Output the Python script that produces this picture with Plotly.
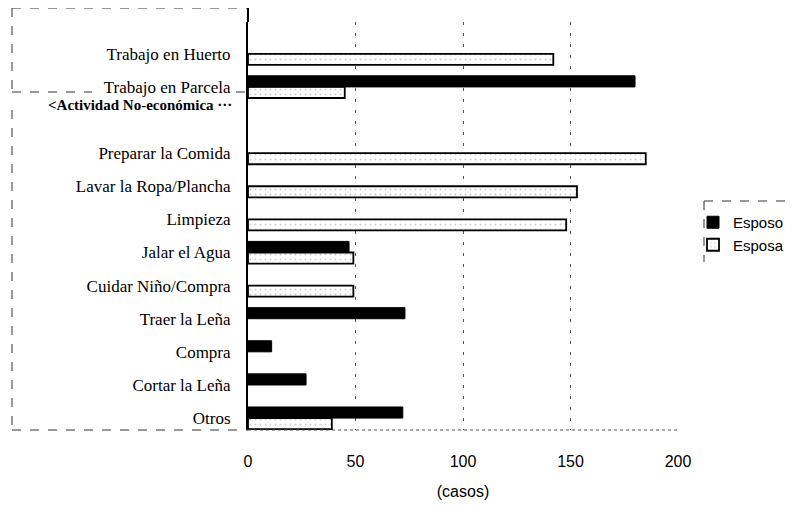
import plotly.graph_objects as go

categories = ["Otros", "Cortar la Leña", "Compra", "Traer la Leña", "Cuidar Niño/Compra",
              "Jalar el Agua", "Limpieza", "Lavar la Ropa/Plancha", "Preparar la Comida",
              " ", "Trabajo en Parcela", "Trabajo en Huerto"]
esposo = [72, 27, 11, 73, None, 47, None, None, None, None, 180, None]
esposa = [39, None, None, None, 49, 49, 148, 153, 185, None, 45, 142]
x_ticks = [0, 50, 100, 150, 200]
group_label = "<Actividad No-económica ···"

fig = go.Figure()
fig.add_trace(go.Bar(y=categories, x=esposa, orientation="h", name="Esposa",
                     marker=dict(color="white", line=dict(color="black", width=1.8),
                                 pattern=dict(shape=".", fgcolor="#9a9a9a", bgcolor="white",
                                              size=5, solidity=0.12))))
fig.add_trace(go.Bar(y=categories, x=esposo, orientation="h", name="Esposo",
                     marker=dict(color="black", line=dict(color="black", width=1))))

# page has an 8px body margin: figure is placed at (8, 8) in the window
OFF = 8
W, H = 794 - OFF, 506 - OFF
L, R, T, B = 248, 678, 22, 430  # plot area in window pixels


def px(p):
    return (p - L) / (R - L)


def py(p):
    return (B - p) / (B - T)


dash = dict(color="#333", width=1, dash="dash")


def line(x0, x1, y0, y1, st):
    return dict(type="line", xref="paper", yref="paper",
                x0=px(x0), x1=px(x1), y0=py(y0), y1=py(y1), line=st)


shapes = [
    # top group box
    line(12, 247, 8, 8, dash),
    line(12, 12, 8, 92, dash),
    line(12, 92, 92, 92, dash),
    line(236, 247, 92, 92, dash),
    line(248, 248, 8, 22, dict(color="black", width=2)),
    # second group box
    line(12, 12, 110, 430, dash),
    line(12, 248, 430, 430, dash),
    # bottom dotted line of plot
    dict(type="line", xref="paper", yref="paper", x0=0, x1=1, y0=0, y1=0,
         line=dict(color="#555", width=1, dash="dot")),
    # legend partial dashed frame
    line(704, 792, 201, 201, dash),
    line(704, 704, 201, 262, dash),
]

fig.update_layout(
    width=W, height=H,
    margin=dict(l=L - OFF, r=W - (R - OFF), t=T - OFF, b=H - (B - OFF), autoexpand=False),
    paper_bgcolor="white", plot_bgcolor="white",
    barmode="group", bargap=0.33, bargroupgap=0.0,
    showlegend=True,
    legend=dict(xref="container", yref="container", x=(693 - OFF) / W, y=1 - (206 - OFF) / H,
                xanchor="left", yanchor="top", traceorder="reversed",
                font=dict(family="Liberation Sans, Arial", size=15, color="black"),
                bgcolor="rgba(0,0,0,0)", itemwidth=30, tracegroupgap=0),
    shapes=shapes,
    annotations=[dict(text=group_label, xref="paper", yref="paper", x=px(234), y=py(105),
                      xanchor="right", yanchor="middle", showarrow=False,
                      font=dict(family="Liberation Serif, Times New Roman", size=15,
                                color="black", weight="bold"))],
    font=dict(family="Liberation Serif, Times New Roman", color="black"),
)

fig.update_xaxes(range=[0, 200], tickvals=x_ticks, ticktext=[str(v) for v in x_ticks],
                 showgrid=True, gridcolor="#555", griddash="3px,8px", gridwidth=1,
                 zeroline=False, showline=False, automargin=False,
                 ticks="", ticklabelstandoff=20,
                 tickfont=dict(family="Liberation Sans, Arial", size=16, color="black"),
                 title=dict(text="(casos)", font=dict(family="Liberation Sans, Arial", size=16,
                                                      color="black"),
                            standoff=16))
fig.update_yaxes(type="category", categoryorder="array", categoryarray=categories,
                 range=[-0.36, 11.96], showgrid=False, zeroline=False, automargin=False,
                 showline=True, linecolor="black", linewidth=2,
                 ticks="", ticklabelstandoff=12,
                 tickfont=dict(family="Liberation Serif, Times New Roman", size=17, color="black"))

fig.write_html("out.html")
